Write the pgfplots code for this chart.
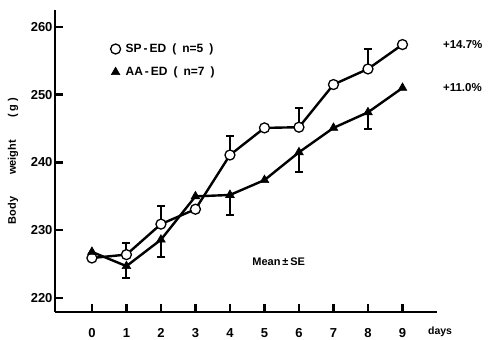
\documentclass[border=0pt]{standalone}
\usepackage{fontspec}
\setmainfont{Liberation Sans}
\usepackage{pgfplots}
\pgfplotsset{compat=1.18}
\usepackage{pgfplotstable}
\pgfplotstableread{
day w
0 225.9
1 226.4
2 230.9
3 233.1
4 241.1
5 245.1
6 245.2
7 251.5
8 253.8
9 257.4
}\spdata
\pgfplotstableread{
day w
0 226.8
1 224.7
2 228.6
3 235.0
4 235.2
5 237.4
6 241.5
7 245.1
8 247.4
9 251.0
}\aadata
\pgfplotstableread{
day w e
1 226.4 1.7
2 230.9 2.6
4 241.1 2.8
6 245.2 2.8
8 253.8 3.0
}\sperr
\pgfplotstableread{
day w e
1 224.7 1.8
2 228.6 2.5
4 235.2 2.9
6 241.5 2.9
8 247.4 2.4
}\aaerr
\begin{document}
\begin{tikzpicture}
\path[use as bounding box] (0,0) rectangle (488pt,340pt);
\begin{axis}[
  at={(55pt,28pt)}, anchor=south west,
  scale only axis, width=382pt, height=302pt,
  xmin=-1.07, xmax=10.0, ymin=217.93, ymax=262.5,
  axis lines=left,
  axis line style={-, line width=2.8pt},
  xtick={0,...,9}, ytick={220,230,...,260},
  tick align=inside, major tick length=8pt,
  tick style={line width=2.4pt, black},
  /pgf/number format/assume math mode=true,
  tick label style={font=\fontsize{13}{15}\selectfont\bfseries},
  xticklabel style={yshift=-13pt},
  yticklabel style={xshift=1pt},
  clip=false,
  legend style={draw=none, fill=none, at={(0.145,0.895)}, anchor=north west,
    font=\fontsize{12}{14}\selectfont\bfseries, row sep=9pt, inner sep=0pt,
    legend cell align=left},
  legend image code/.code={\draw[#1, only marks] plot coordinates {(0.15cm,0cm)};},
  ylabel={Body\qquad weight\qquad (\;g\;)},
  every axis y label/.style={at={(axis description cs:-0.11,0.50)}, rotate=90, anchor=center,
    font=\fontsize{11}{13}\selectfont\bfseries},
]
\addplot[black, line width=2.4pt, mark=*, mark size=5pt,
  mark options={fill=white, draw=black, line width=1.3pt}]
  table[x=day, y=w] {\spdata};
\addlegendentry{\hspace{3pt}SP\,-\,ED\enspace(\enspace n=5\enspace)}
\addplot[black, line width=2.4pt, mark=triangle*, mark size=5pt,
  mark options={fill=black, draw=black, line width=0.6pt}]
  table[x=day, y=w] {\aadata};
\addlegendentry{\hspace{3pt}AA\,-\,ED\enspace(\enspace n=7\enspace)}
\addplot[draw=none, mark=none, forget plot,
  error bars/.cd, y dir=plus, y explicit,
  error bar style={draw=black, line width=2pt},
  error mark options={draw=black, line width=2pt, mark size=4pt, rotate=90}]
  table[x=day, y=w, y error=e] {\sperr};
\addplot[draw=none, mark=none, forget plot,
  error bars/.cd, y dir=minus, y explicit,
  error bar style={draw=black, line width=2pt},
  error mark options={draw=black, line width=2pt, mark size=4pt, rotate=90}]
  table[x=day, y=w, y error=e] {\aaerr};
\node[anchor=west, inner sep=0pt, font=\fontsize{11.5}{14}\selectfont\bfseries] at (axis cs:10.17,257.4) {+14.7\%};
\node[anchor=west, inner sep=0pt, font=\fontsize{11.5}{14}\selectfont\bfseries] at (axis cs:10.17,251.0) {+11.0\%};
\node[anchor=west, font=\fontsize{11}{13}\selectfont\bfseries] at (axis cs:4.55,225.3) {Mean\,±\,SE};
\node[font=\fontsize{10.5}{12}\selectfont\bfseries] at (axis cs:10.09,215.0) {days};
\end{axis}
\end{tikzpicture}
\end{document}
